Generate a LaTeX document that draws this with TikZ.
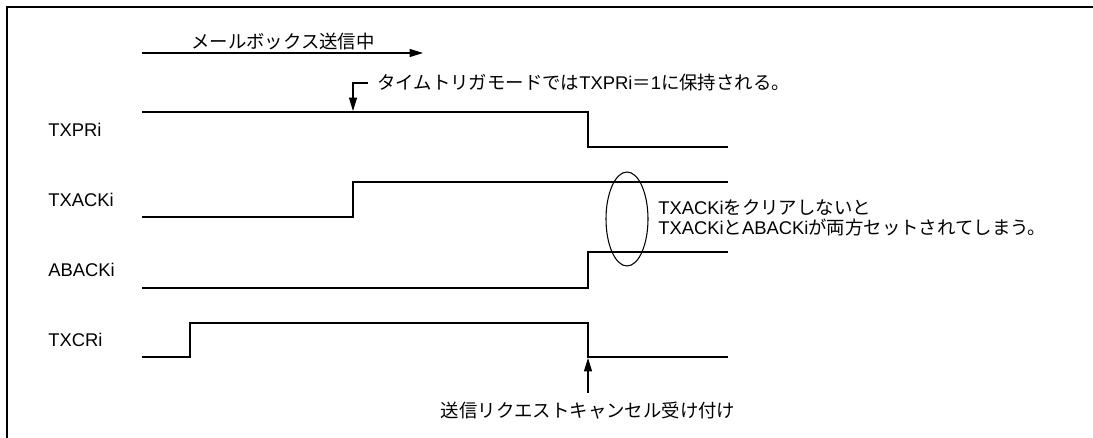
\documentclass[tikz,border=0pt]{standalone}
\usepackage{fontspec}
\setmainfont{Liberation Sans}
\newfontfamily\jpfont{Noto Sans CJK JP}
\newcommand{\J}[1]{{\jpfont #1}}
\usetikzlibrary{arrows.meta}
\begin{document}
\begin{tikzpicture}[x=0.75pt,y=-0.75pt,
  lbl/.style={font=\fontsize{13.8pt}{15pt}\selectfont, inner sep=0pt},
  sig/.style={line width=1.9pt, line join=miter},
  thinline/.style={line width=0.8pt},
  arr/.style={thinline, -{Triangle[length=10pt,width=6pt]}},
  framelines/.style={line width=2pt}]
\useasboundingbox (0,0) rectangle (1093,438);
\draw[framelines] (7,438) -- (7,7) -- (1093,7);

% signal labels
\node[lbl, anchor=west] (txpr) at (48,130) {TXPRi};
\node[lbl, anchor=west] (txack) at (48,200) {TXACKi};
\node[lbl, anchor=west] (aback) at (48,270) {ABACKi};
\node[lbl, anchor=west] (txcr) at (48,340) {TXCRi};

% waveforms
\draw[sig] (142,112) -- (588,112) -- (588,147) -- (728,147);
\draw[sig] (142,217) -- (353,217) -- (353,182) -- (728,182);
\draw[sig] (142,288) -- (588,288) -- (588,252) -- (728,252);
\draw[sig] (142,357) -- (190,357) -- (190,323) -- (588,323) -- (588,357) -- (728,357);

% mailbox sending arrow
\coordinate (mbS) at (142,53);
\coordinate (mbE) at (423,53);
\draw[arr] (mbS) -- (mbE);
\node[lbl] (mb) at (283,42) {\J{メールボックス送信中}};

% time trigger annotation
\node[lbl, anchor=west] (tt) at (377,83) {\J{タイムトリガモードでは}TXPRi\J{＝}1\J{に保持される。}};
\coordinate (ttS) at (368,83);
\coordinate (ttE) at (353,111);
\draw[arr] (ttS) -| (ttE);

% ellipse and note
\draw[thinline] (627,219) ellipse [x radius=15.75pt, y radius=35.25pt];
\node[lbl, anchor=west, align=left] (note) at (658,218)
  {TXACKi\J{をクリアしないと}\\TXACKi\J{と}ABACKi\J{が両方セットされてしまう。}};

% cancel acceptance
\node[lbl] (cancel) at (588,411) {\J{送信リクエストキャンセル受け付け}};
\coordinate (cS) at (588,393);
\coordinate (cE) at (588,358);
\draw[arr] (cS) -- (cE);
\end{tikzpicture}
\end{document}
